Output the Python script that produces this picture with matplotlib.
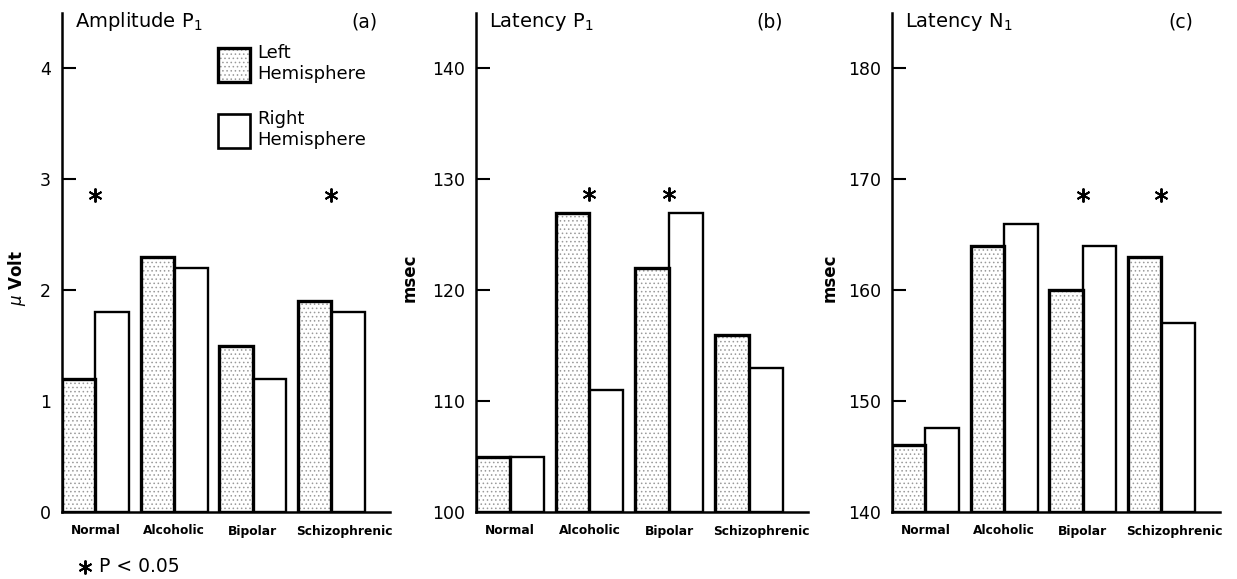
import matplotlib
matplotlib.use("Agg")
import matplotlib.pyplot as plt
from matplotlib.patches import Patch
from matplotlib.lines import Line2D
import matplotlib.transforms as mtransforms
import numpy as np

plt.rcParams['font.family'] = ['DejaVu Sans']
plt.rcParams['hatch.linewidth'] = 0.6

# ---------------- data ----------------
groups = ["Normal", "Alcoholic", "Bipolar", "Schizophrenic"]

amp_p1_left = [1.2, 2.3, 1.5, 1.9]
amp_p1_right = [1.8, 2.2, 1.2, 1.8]
amp_p1_sig = [True, False, False, True]

lat_p1_left = [105, 127, 122, 116]
lat_p1_right = [105, 111, 127, 113]
lat_p1_sig = [False, True, True, False]

lat_n1_left = [146, 164, 160, 163]
lat_n1_right = [147.6, 166, 164, 157]
lat_n1_sig = [False, False, True, True]

amp_ticks = [0, 1, 2, 3, 4]
lat_p1_ticks = [100, 110, 120, 130, 140]
lat_n1_ticks = [140, 150, 160, 170, 180]

legend_labels = ["Left\nHemisphere", "Right\nHemisphere"]

# ---------------- layout ----------------
W, H = 1237, 579
fig = plt.figure(figsize=(W / 100, H / 100), dpi=100)

panels = [
    dict(rect=(62, 390), left=amp_p1_left, right=amp_p1_right, sig=amp_p1_sig,
         ylim=(0, 4.5), ticks=amp_ticks, title=r"Amplitude P$_1$", letter="(a)",
         letter_x=0.963, ylabel=r"$\mu$ Volt", ylabel_x=-0.105, ylabel_y=0.47, star=2.86),
    dict(rect=(476, 808), left=lat_p1_left, right=lat_p1_right, sig=lat_p1_sig,
         ylim=(100, 145), ticks=lat_p1_ticks, title=r"Latency P$_1$", letter="(b)",
         letter_x=0.925, ylabel="msec", ylabel_x=-0.172, ylabel_y=0.47, star=128.7),
    dict(rect=(892, 1220), left=lat_n1_left, right=lat_n1_right, sig=lat_n1_sig,
         ylim=(140, 185), ticks=lat_n1_ticks, title=r"Latency N$_1$", letter="(c)",
         letter_x=0.918, ylabel="msec", ylabel_x=-0.162, ylabel_y=0.47, star=168.6),
]

bar_w = 1.0
pitch = 2.35
xmax = 9.8
y_bottom_px, y_top_px = 512, 13
stipple_face = "white"
stipple_dots = "#9a9a9a"

for p in panels:
    x0, x1 = p["rect"]
    ax = fig.add_axes([x0 / W, 1 - y_bottom_px / H, (x1 - x0) / W,
                       (y_bottom_px - y_top_px) / H])
    base = p["ylim"][0]
    starts = np.arange(len(groups)) * pitch
    left_h = np.array(p["left"]) - base
    right_h = np.array(p["right"]) - base

    # right hemisphere (open bars)
    ax.bar(starts + bar_w, right_h, width=bar_w, bottom=base, align="edge",
           facecolor="white", edgecolor="black", linewidth=1.7, zorder=2)
    # left hemisphere (stippled bars)
    ax.bar(starts, left_h, width=bar_w, bottom=base, align="edge",
           facecolor=stipple_face, edgecolor=stipple_dots, hatch="....",
           linewidth=0, zorder=3)
    ax.bar(starts, left_h, width=bar_w, bottom=base, align="edge",
           facecolor="none", edgecolor="black", linewidth=2.4, zorder=4)

    # significance stars
    for i, s in enumerate(p["sig"]):
        if s:
            ax.plot(starts[i] + bar_w, p["star"], linestyle="none",
                    marker=(6, 2, 0), markersize=10, markeredgewidth=1.4,
                    color="black", zorder=5, clip_on=False)

    ax.set_xlim(0, xmax)
    ax.set_ylim(*p["ylim"])
    ax.set_yticks(p["ticks"])
    ax.set_xticks(starts + bar_w)

    for side in ("top", "right"):
        ax.spines[side].set_visible(False)
    ax.spines["left"].set_linewidth(1.8)
    ax.spines["bottom"].set_linewidth(1.8)
    ax.spines["left"].set_zorder(6)
    ax.spines["bottom"].set_zorder(6)
    ax.tick_params(axis="y", direction="in", length=10, width=1.5,
                   labelsize=12.5, pad=8)
    ax.tick_params(axis="x", length=0, pad=9)
    ax.set_xticklabels(groups, fontweight="bold", fontsize=8.8)
    # last label sits slightly to the right in the original
    lbl = ax.get_xticklabels()[-1]
    lbl.set_transform(lbl.get_transform() +
                      mtransforms.ScaledTranslation(13 / 100, 0, fig.dpi_scale_trans))
    ax.patch.set_alpha(0)

    ax.text(0.04, 0.982, p["title"], transform=ax.transAxes, fontsize=14,
            ha="left", va="center")
    ax.text(p["letter_x"], 0.982, p["letter"], transform=ax.transAxes,
            fontsize=13.5, ha="right", va="center")
    ax.set_ylabel(p["ylabel"], fontsize=12, fontweight="bold")
    ax.yaxis.set_label_coords(p["ylabel_x"], p["ylabel_y"])

    if p["letter"] == "(a)":
        h_left = (Patch(facecolor=stipple_face, edgecolor=stipple_dots,
                        hatch="....", linewidth=0),
                  Patch(facecolor="none", edgecolor="black", linewidth=2.4))
        h_right = Patch(facecolor="white", edgecolor="black", linewidth=1.9)
        leg = ax.legend([h_left, h_right], legend_labels, loc="upper left",
                        bbox_to_anchor=((218 - 62) / 328, (512 - 44) / 499),
                        frameon=False, fontsize=13, handlelength=1.75,
                        handleheight=2.5, handletextpad=0.4, labelspacing=1.5,
                        borderpad=0, borderaxespad=0)

# footnote
fig.add_artist(Line2D([85 / W], [1 - 567 / H], marker=(6, 2, 0), markersize=10,
                      markeredgewidth=1.4, color="black", linestyle="none"))
fig.text(99 / W, 1 - 567 / H, "P < 0.05", fontsize=13.5, ha="left", va="center")

fig.savefig("out.png", dpi=100)
